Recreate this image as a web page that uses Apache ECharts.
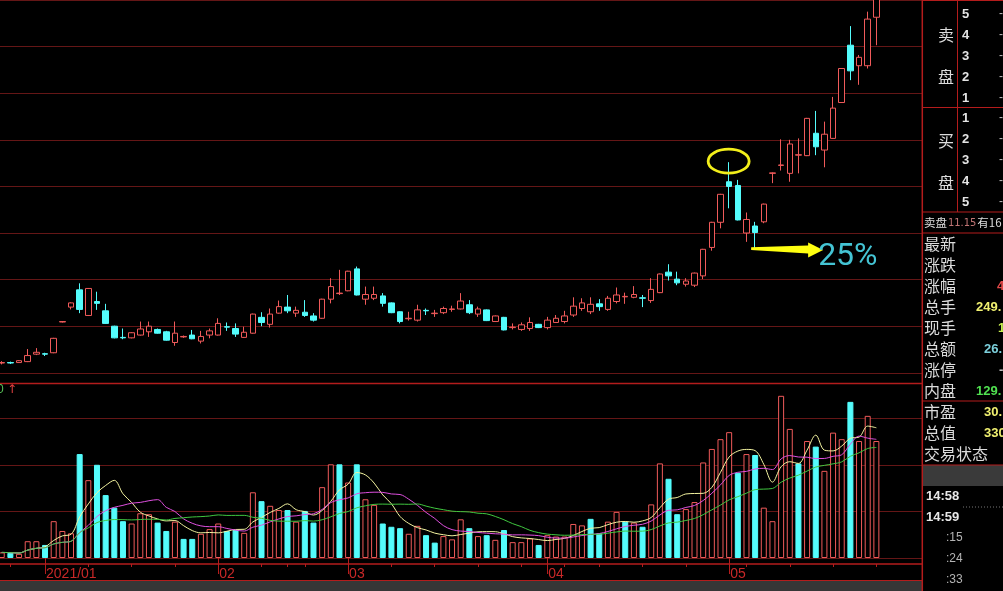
<!DOCTYPE html>
<html><head><meta charset="utf-8">
<script src="https://cdn.jsdelivr.net/npm/echarts@6/dist/echarts.min.js"></script>
<style>html,body{margin:0;padding:0;background:#000;}#c{width:1003px;height:591px;}</style>
</head><body><div id="c"></div>
<script>
const dates = ['2020/12/25','2020/12/28','2020/12/29','2020/12/30','2020/12/31',
'2021/01/04','2021/01/05','2021/01/06','2021/01/07','2021/01/08','2021/01/11','2021/01/12','2021/01/13','2021/01/14','2021/01/15','2021/01/18','2021/01/19','2021/01/20','2021/01/21','2021/01/22','2021/01/25','2021/01/26','2021/01/27','2021/01/28','2021/01/29',
'2021/02/01','2021/02/02','2021/02/03','2021/02/04','2021/02/05','2021/02/08','2021/02/09','2021/02/10','2021/02/18','2021/02/19','2021/02/22','2021/02/23','2021/02/24','2021/02/25','2021/02/26',
'2021/03/01','2021/03/02','2021/03/03','2021/03/04','2021/03/05','2021/03/08','2021/03/09','2021/03/10','2021/03/11','2021/03/12','2021/03/15','2021/03/16','2021/03/17','2021/03/18','2021/03/19','2021/03/22','2021/03/23','2021/03/24','2021/03/25','2021/03/26','2021/03/29','2021/03/30','2021/03/31',
'2021/04/01','2021/04/02','2021/04/06','2021/04/07','2021/04/08','2021/04/09','2021/04/12','2021/04/13','2021/04/14','2021/04/15','2021/04/16','2021/04/19','2021/04/20','2021/04/21','2021/04/22','2021/04/23','2021/04/26','2021/04/27','2021/04/28','2021/04/29','2021/04/30',
'2021/05/06','2021/05/07','2021/05/10','2021/05/11','2021/05/12','2021/05/13','2021/05/14','2021/05/17','2021/05/18','2021/05/19','2021/05/20','2021/05/21','2021/05/24','2021/05/25','2021/05/26','2021/05/27','2021/05/28','2021/05/31'];

const opens = [3.21,3.22,3.22,3.24,3.40,3.41,3.43,4.09,4.41,4.78, 4.23,4.53,4.33,4.00,3.76,3.75,3.81,3.88,3.93,3.88,
3.65,3.77,3.81,3.68,3.81,3.81,3.99,3.95,3.76,3.85, 4.19,4.04,4.28,4.41,4.28,4.30,4.22,4.17,4.58,4.70,
4.76,5.23,4.58,4.60,4.65,4.50,4.31,4.16,4.13,4.34, 4.27,4.29,4.36,4.37,4.46,4.26,4.35,4.10,4.19,3.97,
3.93,3.95,4.04,3.97,4.08,4.10,4.24,4.38,4.31,4.48, 4.36,4.53,4.63,4.62,4.61,4.55,4.72,5.16,5.01,4.90,
4.88,5.08,5.69,6.23,7.10,7.02,6.00,6.15,6.24,7.28, 7.45,7.28,7.67,7.66,8.14,7.78,8.03,8.80,10.03,9.59,
9.59,10.63];
const closes = [3.22,3.21,3.26,3.37,3.44,3.40,3.74,4.10,4.50,4.36, 4.81,4.49,4.06,3.75,3.75,3.86,3.94,4.00,3.85,3.70,
3.85,3.78,3.73,3.78,3.90,4.06,3.98,3.83,3.87,4.26, 4.08,4.26,4.42,4.33,4.34,4.23,4.13,4.58,4.85,4.71,
5.18,4.67,4.68,4.68,4.49,4.29,4.10,4.17,4.35,4.33, 4.28,4.38,4.37,4.54,4.29,4.37,4.12,4.22,3.92,3.98,
4.03,4.08,3.97,4.13,4.17,4.22,4.43,4.50,4.47,4.42, 4.60,4.67,4.64,4.68,4.60,4.79,5.12,5.08,4.93,4.97,
5.14,5.65,6.23,6.83,7.00,6.28,6.29,6.01,6.62,7.29, 7.46,7.91,7.68,8.46,7.85,8.12,8.68,9.53,9.48,9.77,
10.59,11.15];
const lows = [3.18,3.19,3.21,3.23,3.38,3.36,3.42,4.08,4.36,4.28, 4.22,4.35,4.05,3.74,3.72,3.74,3.80,3.77,3.84,3.69,
3.58,3.75,3.72,3.63,3.74,3.80,3.90,3.77,3.75,3.84, 4.00,3.97,4.27,4.28,4.20,4.20,4.10,4.16,4.49,4.67,
4.75,4.66,4.46,4.56,4.42,4.28,4.06,4.12,4.10,4.24, 4.20,4.26,4.31,4.36,4.26,4.20,4.11,4.09,3.91,3.93,
3.90,3.90,3.96,3.93,4.07,4.06,4.20,4.33,4.26,4.33, 4.33,4.49,4.48,4.60,4.41,4.50,4.71,4.98,4.88,4.85,
4.84,5.01,5.62,6.10,6.53,6.27,5.81,5.67,6.21,7.07, 7.34,7.10,7.28,7.65,7.67,7.41,8.02,8.79,9.28,9.18,
9.53,10.03];
const highs = [3.25,3.24,3.27,3.51,3.53,3.43,3.75,4.11,4.51,4.92, 4.82,4.74,4.48,4.01,3.95,3.87,4.10,4.10,3.95,3.90,
4.10,3.80,3.92,3.90,3.95,4.17,4.08,4.06,3.99,4.27, 4.30,4.38,4.55,4.67,4.42,4.56,4.28,4.59,5.03,5.21,
5.19,5.28,4.85,4.85,4.71,4.51,4.32,4.31,4.46,4.38, 4.35,4.42,4.44,4.71,4.56,4.42,4.36,4.23,4.20,4.06,
4.08,4.19,4.05,4.20,4.24,4.33,4.62,4.60,4.62,4.58, 4.65,4.83,4.72,4.86,4.67,5.03,5.13,5.33,5.17,5.03,
5.15,5.66,6.24,6.84,7.52,7.14,6.44,6.24,6.63,7.30, 8.01,8.00,8.03,8.47,8.62,8.39,8.92,9.54,10.44,9.82,
10.75,11.20];
// volume in 10k lots
const volumes = [12,11,9,36,36,28,79,58,53,223, 167,200,135,108,79,74,96,94,76,58,
78,41,41,52,62,74,58,60,54,141, 122,112,103,103,78,101,76,152,201,201,
162,201,126,114,74,67,64,52,69,49, 33,47,40,83,64,47,49,39,60,34,
34,42,28,49,46,46,73,70,84,53, 78,99,78,76,67,115,203,170,94,105,
120,205,234,255,270,183,223,221,108,79, 348,277,203,251,239,187,269,255,335,251,
305,251];
const volumeUp = [1,0,1,1,1,0,1,1,1,0, 1,0,0,0,0,1,1,1,0,0, 1,0,0,1,1,1,0,0,1,1, 0,1,1,0,1,0,0,1,1,0,
1,0,1,1,0,0,0,1,1,0, 0,1,1,1,0,1,0,1,0,1, 1,1,0,1,1,1,1,1,0,0, 1,1,0,1,0,1,1,0,0,1,
1,1,1,1,1,0,1,0,1,1, 1,1,0,1,0,1,1,1,0,1, 1,1];
const maPeriods = [5, 10, 20];
const maColors = ['#f4f4a0', '#e050e0', '#40c840'];

const RED = '#f05a5a', CYAN = '#54fcfc', GRID = '#641616', SEP = '#b41c1c';

function movingAverage(n) {
  return volumes.map((v, i) => {
    const s = Math.max(0, i - n + 1);
    let sum = 0; for (let k = s; k <= i; k++) sum += volumes[k];
    return +(sum / (i - s + 1)).toFixed(2);
  });
}
function monthOf(i) { return dates[i].slice(5, 7); }
function isMonthStart(i) { return i > 0 && monthOf(i) !== monthOf(i - 1); }
function isWeekStart(i) {
  if (i === 0) return false;
  const a = new Date(dates[i - 1]), b = new Date(dates[i]);
  return b.getDay() <= a.getDay() || (b - a) >= 7 * 864e5;
}

const ohlc = dates.map((d, i) => [opens[i], closes[i], lows[i], highs[i]]);
const volData = volumes.map((v, i) => ({
  value: v,
  itemStyle: volumeUp[i] ? { color: '#000', borderColor: RED, borderWidth: 1 }
                         : { color: CYAN, borderColor: CYAN, borderWidth: 1 }
}));

const chart = echarts.init(document.getElementById('c'), null, { renderer: 'canvas' });
const G_LEFT = -2.6, G_WIDTH = 883.3;
const option = {
  backgroundColor: '#000',
  animation: false,
  grid: [
    { left: G_LEFT, top: 0, width: G_WIDTH, height: 372.8, outerBoundsMode: 'none', containLabel: false },
    { left: G_LEFT, top: 383, width: G_WIDTH, height: 175, outerBoundsMode: 'none', containLabel: false },
    { left: 0, top: 0, width: 922, height: 372.8, outerBoundsMode: 'none', containLabel: false },
    { left: 0, top: 383, width: 922, height: 175, outerBoundsMode: 'none', containLabel: false }
  ],
  xAxis: [
    { type: 'category', gridIndex: 0, data: dates, boundaryGap: true, show: false },
    { type: 'category', gridIndex: 1, data: dates, boundaryGap: true, position: 'bottom', offset: 6,
      axisLine: { show: false },
      axisTick: { show: true, alignWithLabel: true, length: 16, interval: (i) => isMonthStart(i), lineStyle: { color: SEP, width: 1 } },
      axisLabel: { show: true, interval: (i) => isMonthStart(i), align: 'left', margin: 3, padding: [0, 0, 0, 1],
        color: '#c82828', fontSize: 14, fontFamily: 'Liberation Sans',
        formatter: (v) => v.slice(5, 7) === '01' ? v.slice(0, 7) : v.slice(5, 7) },
      splitLine: { show: false } },
    { type: 'category', gridIndex: 1, data: dates, boundaryGap: true, position: 'bottom', offset: 6,
      axisLine: { show: false }, axisLabel: { show: false },
      axisTick: { show: true, alignWithLabel: true, length: 3, interval: (i) => isWeekStart(i), lineStyle: { color: SEP, width: 1 } },
      splitLine: { show: false } },
    { type: 'value', gridIndex: 2, min: 0, max: 1, show: false },
    { type: 'value', gridIndex: 3, min: 0, max: 1, show: false }
  ],
  yAxis: [
    { type: 'value', gridIndex: 0, min: 3, max: 11, interval: 1, show: false },
    { type: 'value', gridIndex: 1, min: 0, max: 375.5, interval: 100, show: false },
    { type: 'value', gridIndex: 2, min: 3, max: 11, interval: 1, axisLine: { show: false }, axisTick: { show: false }, axisLabel: { show: false },
      splitLine: { show: true, lineStyle: { color: GRID, width: 1 } } },
    { type: 'value', gridIndex: 3, min: 0, max: 375.5, interval: 100, axisLine: { show: false }, axisTick: { show: false }, axisLabel: { show: false },
      splitLine: { show: true, lineStyle: { color: GRID, width: 1 } } }
  ],
  series: [
    { type: 'candlestick', xAxisIndex: 0, yAxisIndex: 0, data: ohlc, barWidth: 6, clip: true,
      itemStyle: { color: '#000', color0: CYAN, borderColor: RED, borderColor0: CYAN, borderWidth: 1 } },
    { type: 'bar', xAxisIndex: 1, yAxisIndex: 1, data: volData, barWidth: 6, z: 2 }
  ].concat(maPeriods.map((n, k) => ({
    type: 'line', xAxisIndex: 1, yAxisIndex: 1, data: movingAverage(n), showSymbol: false, smooth: 0.35,
    z: 5, lineStyle: { color: maColors[k], width: 1 }
  })))
};
chart.setOption(option);

// annotations and side panel
const peak = chart.convertToPixel({ gridIndex: 0 }, [84, highs[84]]);
const dip = chart.convertToPixel({ gridIndex: 0 }, [87, lows[87]]);
const ax = dip[0] - 4, ay = dip[1];
const CJK = '"Noto Sans CJK SC"';
const txt = (text, x, y, font, fill, align) => ({ type: 'text', x: x, y: y, z: 100,
  style: { text: text, font: font, fill: fill, textAlign: align || 'left', textVerticalAlign: 'middle' } });
const line = (x1, y1, x2, y2, color, w, dash) => ({ type: 'line', z: 90, shape: { x1, y1, x2, y2 },
  style: { stroke: color, lineWidth: w || 1, lineDash: dash || null } });

const LBL = '#dcdcdc';
const elements = [
  { type: 'rect', z: 80, shape: { x: 0, y: 581, width: 922, height: 10 }, style: { fill: '#363636' } },
  { type: 'rect', z: 80, shape: { x: 923, y: 465, width: 80, height: 21 }, style: { fill: '#3a3a3a' } },
  line(0, 383.5, 922, 383.5, SEP, 1.5),
  line(0, 564, 922, 564, SEP, 1.5),
  line(0, 580.5, 922, 580.5, SEP, 1.2),
  line(922.3, 0, 922.3, 591, SEP, 1.5),
  line(922, 0.5, 1003, 0.5, SEP, 1),
  line(957.5, 0, 957.5, 212, SEP, 1),
  line(922, 107.5, 1003, 107.5, SEP, 1),
  line(922, 212, 1003, 212, SEP, 1),
  line(922, 233, 1003, 233, SEP, 1),
  line(922, 401, 1003, 401, SEP, 1),
  line(922, 465, 1003, 465, SEP, 1),
  line(963, 507, 1003, 507, '#777', 1, [1, 2]),
  // annotation
  { type: 'ellipse', z: 100, shape: { cx: peak[0] - 0.5, cy: peak[1] - 1, rx: 20.5, ry: 12 },
    style: { fill: null, stroke: '#f2ee1a', lineWidth: 2.8 } },
  { type: 'polygon', z: 100, shape: { points: [[ax, ay - 1.2], [ax + 57, ay - 3], [ax + 57, ay - 6], [ax + 72, ay + 1.5], [ax + 57, ay + 9], [ax + 57, ay + 5], [ax, ay + 1.6]] },
    style: { fill: '#ffff10' } },
  { type: 'text', z: 100, x: ax + 67, y: ay + 9, style: { text: '25%', font: '32px Roboto', fill: '#44c4d4', textVerticalAlign: 'middle' } },
  txt('0', -3, 390, '12px "Liberation Sans"', '#58c058'),
  txt('↑', 7, 390, '12px "DejaVu Sans"', '#e04040'),
  // order book
  txt('卖', 946, 35, '16px ' + CJK, LBL, 'center'),
  txt('盘', 946, 77, '16px ' + CJK, LBL, 'center'),
  txt('买', 946, 141, '16px ' + CJK, LBL, 'center'),
  txt('盘', 946, 183, '16px ' + CJK, LBL, 'center'),
  { type: 'text', z: 100, x: 924, y: 223, style: { text: '{a|卖盘}{b|11.15}{a|有16}', textVerticalAlign: 'middle',
    rich: { a: { font: '11.5px ' + CJK, fill: LBL }, b: { font: '11px "Liberation Sans Narrow", "DejaVu Sans Condensed"', fill: '#c07474', padding: [0, 1, 0, 1] } } } }
];
['5', '4', '3', '2', '1'].forEach((n, k) => {
  elements.push(txt(n, 962, 14 + k * 21, 'bold 13px "Liberation Sans"', '#e4e4e4'));
  elements.push(txt('-', 999, 14 + k * 21, '12px "Liberation Sans"', '#bdbdbd'));
});
['1', '2', '3', '4', '5'].forEach((n, k) => {
  elements.push(txt(n, 962, 118 + k * 21, 'bold 13px "Liberation Sans"', '#e4e4e4'));
  elements.push(txt('-', 999, 118 + k * 21, '12px "Liberation Sans"', '#bdbdbd'));
});
const rows = ['最新', '涨跌', '涨幅', '总手', '现手', '总额', '涨停', '内盘', '市盈', '总值', '交易状态'];
rows.forEach((r, k) => elements.push(txt(r, 924, 244 + k * 21, '16px ' + CJK, LBL)));
const vals = [['4', 997, 286, '#e04848'], ['249.', 976, 307, '#f0f070'], ['1', 998, 328, '#c8f050'],
  ['26.', 984, 349, '#7cd0dc'], ['-', 999, 370, '#bdbdbd'], ['129.', 976, 391, '#50e050'], ['30.', 984, 412, '#f0f070'], ['330', 984, 433, '#f0f070']];
vals.forEach(v => elements.push(txt(v[0], v[1], v[2], 'bold 13px "Liberation Sans"', v[3])));
elements.push(txt('14:58', 926, 496, 'bold 13px "Liberation Sans"', '#e8e8e8'));
elements.push(txt('14:59', 926, 517, 'bold 13px "Liberation Sans"', '#e8e8e8'));
[':15', ':24', ':33'].forEach((t, k) => elements.push(txt(t, 946, 538 + k * 21, '12px "Liberation Sans"', '#b4b4b4')));
chart.setOption({ graphic: { elements: elements } });
</script>
</body></html>
